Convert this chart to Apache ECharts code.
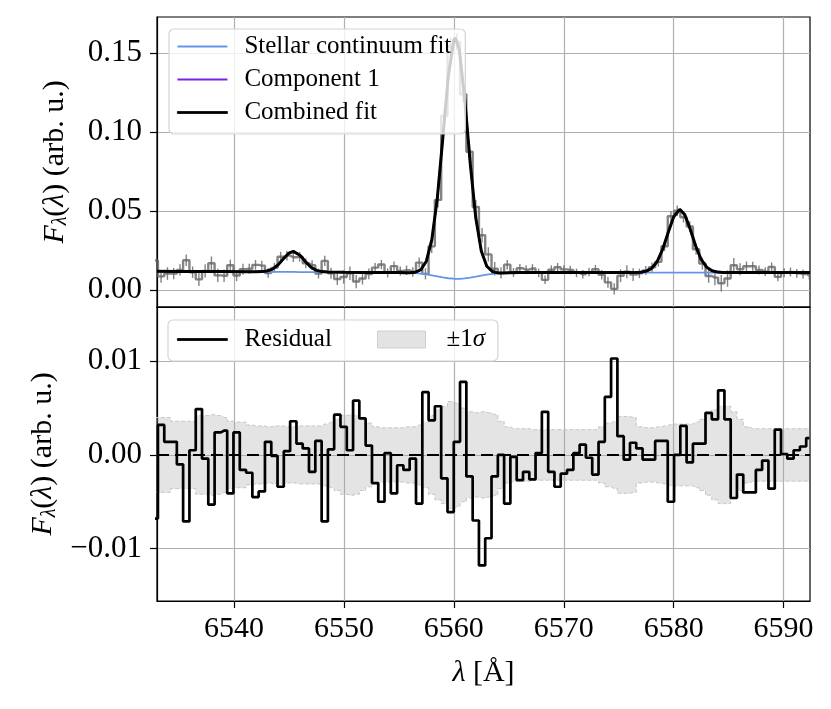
<!DOCTYPE html>
<html>
<head>
<meta charset="utf-8">
<script src="https://cdn.jsdelivr.net/npm/echarts@6/dist/echarts.min.js"></script>
<style>
html, body { margin: 0; padding: 0; background: #fff; }
#chart { width: 831px; height: 709px; }
</style>
</head>
<body>
<div id="chart"></div>
<script>
// bin centres of the spectrum (Å)
const binCenters = [
  6532.80, 6533.37, 6533.95, 6534.52, 6535.09, 6535.66, 6536.24, 6536.81, 6537.38, 6537.95,
  6538.53, 6539.10, 6539.67, 6540.24, 6540.82, 6541.39, 6541.96, 6542.53, 6543.11, 6543.68,
  6544.25, 6544.82, 6545.40, 6545.97, 6546.54, 6547.11, 6547.69, 6548.26, 6548.83, 6549.40,
  6549.98, 6550.55, 6551.12, 6551.69, 6552.27, 6552.84, 6553.41, 6553.98, 6554.56, 6555.13,
  6555.70, 6556.27, 6556.85, 6557.42, 6557.99, 6558.56, 6559.14, 6559.71, 6560.28, 6560.85,
  6561.43, 6562.00, 6562.57, 6563.14, 6563.72, 6564.29, 6564.86, 6565.43, 6566.01, 6566.58,
  6567.15, 6567.72, 6568.30, 6568.87, 6569.44, 6570.01, 6570.59, 6571.16, 6571.73, 6572.30,
  6572.88, 6573.45, 6574.02, 6574.59, 6575.17, 6575.74, 6576.31, 6576.88, 6577.46, 6578.03,
  6578.60, 6579.17, 6579.75, 6580.32, 6580.89, 6581.46, 6582.04, 6582.61, 6583.18, 6583.75,
  6584.33, 6584.90, 6585.47, 6586.04, 6586.62, 6587.19, 6587.76, 6588.33, 6588.91, 6589.48,
  6590.05, 6590.62, 6591.20, 6591.77, 6592.34
];

// observed flux per bin
const observed = [
  0.0186, 0.0086, 0.0104, 0.0103, 0.0127, 0.0188, 0.0112, 0.0067, 0.0120, 0.0169,
  0.0092, 0.0090, 0.0156, 0.0091, 0.0131, 0.0134, 0.0159, 0.0154, 0.0107, 0.0140,
  0.0210, 0.0217, 0.0207, 0.0210, 0.0169, 0.0157, 0.0104, 0.0184, 0.0106, 0.0069,
  0.0082, 0.0106, 0.0053, 0.0072, 0.0101, 0.0141, 0.0161, 0.0108, 0.0151, 0.0120,
  0.0125, 0.0114, 0.0173, 0.0102, 0.0276, 0.0570, 0.1103, 0.1541, 0.1570, 0.1239,
  0.0875, 0.0525, 0.0346, 0.0225, 0.0134, 0.0108, 0.0160, 0.0111, 0.0137, 0.0128,
  0.0136, 0.0108, 0.0064, 0.0128, 0.0144, 0.0130, 0.0126, 0.0108, 0.0099, 0.0113,
  0.0131, 0.0096, 0.0048, 0.0007, 0.0090, 0.0115, 0.0097, 0.0105, 0.0123, 0.0144,
  0.0178, 0.0277, 0.0467, 0.0501, 0.0460, 0.0402, 0.0258, 0.0167, 0.0088, 0.0078,
  0.0042, 0.0072, 0.0156, 0.0131, 0.0150, 0.0150, 0.0126, 0.0116, 0.0146, 0.0083,
  0.0109, 0.0114, 0.0105, 0.0101, 0.0092
];

// 1 sigma error per bin
const sigma = [
  0.0040, 0.0040, 0.0040, 0.0036, 0.0036, 0.0036, 0.0036, 0.0042, 0.0042, 0.0043,
  0.0042, 0.0040, 0.0036, 0.0035, 0.0035, 0.0032, 0.0031, 0.0031, 0.0030, 0.0031,
  0.0031, 0.0030, 0.0030, 0.0031, 0.0031, 0.0031, 0.0031, 0.0033, 0.0035, 0.0038,
  0.0042, 0.0043, 0.0042, 0.0038, 0.0034, 0.0030, 0.0029, 0.0029, 0.0029, 0.0029,
  0.0030, 0.0030, 0.0032, 0.0035, 0.0042, 0.0048, 0.0052, 0.0057, 0.0055, 0.0050,
  0.0046, 0.0045, 0.0046, 0.0045, 0.0043, 0.0036, 0.0030, 0.0028, 0.0028, 0.0028,
  0.0027, 0.0027, 0.0027, 0.0027, 0.0027, 0.0027, 0.0027, 0.0027, 0.0027, 0.0027,
  0.0027, 0.0030, 0.0034, 0.0036, 0.0041, 0.0041, 0.0040, 0.0030, 0.0029, 0.0029,
  0.0030, 0.0031, 0.0033, 0.0033, 0.0033, 0.0033, 0.0035, 0.0038, 0.0043, 0.0048,
  0.0052, 0.0052, 0.0046, 0.0038, 0.0030, 0.0028, 0.0028, 0.0028, 0.0028, 0.0028,
  0.0028, 0.0028, 0.0028, 0.0028, 0.0028
];

// residual per bin
const residual = [
  -0.0068, 0.0032, 0.0014, 0.0014, -0.0010, -0.0071, 0.0005, 0.0049, -0.0004, -0.0053,
  0.0024, 0.0026, -0.0041, 0.0024, -0.0016, -0.0019, -0.0045, -0.0039, 0.0014, -0.0001,
  -0.0034, 0.0004, 0.0036, 0.0012, 0.0007, -0.0018, 0.0015, -0.0071, 0.0006, 0.0043,
  0.0030, 0.0005, 0.0058, 0.0039, 0.0010, -0.0030, -0.0050, 0.0002, -0.0041, -0.0011,
  -0.0016, -0.0004, -0.0052, 0.0067, 0.0037, 0.0052, -0.0025, -0.0061, 0.0014, 0.0078,
  -0.0023, -0.0070, -0.0118, -0.0089, -0.0023, 0.0000, -0.0052, -0.0002, -0.0027, -0.0018,
  -0.0026, 0.0002, 0.0046, -0.0018, -0.0034, -0.0020, -0.0016, 0.0002, 0.0011, -0.0003,
  -0.0021, 0.0014, 0.0062, 0.0103, 0.0020, -0.0005, 0.0013, 0.0007, -0.0005, -0.0005,
  0.0015, 0.0015, -0.0050, 0.0000, 0.0031, -0.0008, 0.0012, 0.0012, 0.0045, 0.0038,
  0.0069, 0.0038, -0.0046, -0.0021, -0.0040, -0.0040, -0.0016, -0.0006, -0.0036, 0.0027,
  0.0001, -0.0004, 0.0005, 0.0009, 0.0018
];

// model curves
const fitX = [
  6533, 6535, 6537, 6539, 6541, 6542, 6542.5, 6543, 6543.5, 6544,
  6544.5, 6545, 6545.4, 6546, 6546.5, 6547, 6547.5, 6548, 6548.5, 6550,
  6552, 6554, 6555, 6555.5, 6556, 6556.5, 6557, 6557.5, 6558, 6558.5,
  6559, 6559.5, 6560, 6560.15, 6560.5, 6561, 6561.5, 6562, 6562.5, 6563,
  6563.5, 6564, 6564.5, 6565, 6566, 6568, 6570, 6572, 6574, 6576,
  6576.5, 6577, 6577.5, 6578, 6578.5, 6579, 6579.5, 6580, 6580.55, 6581,
  6581.5, 6582, 6582.5, 6583, 6583.5, 6584, 6584.5, 6585, 6587, 6589,
  6591, 6592.4
];
const stellarY = [
  0.0118, 0.0117, 0.0117, 0.0116, 0.0115, 0.0115, 0.0115, 0.0115, 0.0114, 0.0114,
  0.0114, 0.0114, 0.0114, 0.0113, 0.0113, 0.0113, 0.0113, 0.0113, 0.0113, 0.0112,
  0.0111, 0.0111, 0.0110, 0.0109, 0.0108, 0.0106, 0.0103, 0.0098, 0.0092, 0.0086,
  0.0079, 0.0074, 0.0071, 0.0070, 0.0070, 0.0073, 0.0078, 0.0084, 0.0091, 0.0097,
  0.0102, 0.0105, 0.0107, 0.0109, 0.0110, 0.0110, 0.0110, 0.0110, 0.0110, 0.0110,
  0.0110, 0.0110, 0.0110, 0.0110, 0.0110, 0.0110, 0.0110, 0.0110, 0.0110, 0.0110,
  0.0110, 0.0110, 0.0110, 0.0110, 0.0110, 0.0110, 0.0110, 0.0110, 0.0110, 0.0110,
  0.0110, 0.0110
];
const combinedY = [
  0.0118, 0.0117, 0.0117, 0.0116, 0.0115, 0.0115, 0.0116, 0.0120, 0.0132, 0.0158,
  0.0197, 0.0233, 0.0244, 0.0220, 0.0180, 0.0144, 0.0124, 0.0116, 0.0113, 0.0112,
  0.0111, 0.0111, 0.0110, 0.0109, 0.0109, 0.0112, 0.0128, 0.0182, 0.0318, 0.0581,
  0.0962, 0.1355, 0.1582, 0.1595, 0.1520, 0.1204, 0.0796, 0.0455, 0.0247, 0.0150,
  0.0117, 0.0108, 0.0107, 0.0109, 0.0110, 0.0110, 0.0110, 0.0110, 0.0110, 0.0110,
  0.0111, 0.0112, 0.0119, 0.0137, 0.0180, 0.0258, 0.0364, 0.0463, 0.0510, 0.0478,
  0.0386, 0.0278, 0.0193, 0.0144, 0.0121, 0.0113, 0.0111, 0.0110, 0.0110, 0.0110,
  0.0110, 0.0110
];

const xTicks = [6540, 6550, 6560, 6570, 6580, 6590];
const topTicks = [0, 0.05, 0.10, 0.15];
const botTicks = [-0.01, 0, 0.01];

const FONT = 'Liberation Serif';
const GRID_COLOR = '#b0b0b0';
const DATA_GRAY = 'rgba(100,100,100,0.8)';
const BAND_FILL = 'rgba(165,165,165,0.3)';
const BAND_EDGE = '#c6c6c6';

const pair = (xs, ys) => xs.map((x, i) => [x, ys[i]]);
const fmt = v => (v < 0 ? '\u2212' : '') + Math.abs(v).toFixed(2);

const yName = '{i|F}{s|λ}({i|λ}) (arb. u.)';
const yNameStyle = {
  fontFamily: FONT, fontSize: 30, color: '#000',
  rich: {
    i: { fontFamily: FONT, fontSize: 30, fontStyle: 'italic', color: '#000' },
    s: { fontFamily: FONT, fontSize: 20, fontStyle: 'italic', color: '#000', padding: [12, 0, 0, 0] }
  }
};

function xAxisFor(idx, withLabels) {
  return {
    gridIndex: idx, type: 'value', min: 6533.0, max: 6592.4,
    axisLine: { show: true, onZero: false, lineStyle: { color: '#000', width: 1.2 } },
    axisTick: { show: withLabels, length: 7, customValues: xTicks, lineStyle: { color: '#000', width: 1.2 } },
    axisLabel: {
      show: withLabels, customValues: xTicks, fontFamily: FONT, fontSize: 30, color: '#000', margin: 13,
      formatter: v => String(v)
    },
    splitLine: { show: true, lineStyle: { color: GRID_COLOR, width: 1.2 } },
    name: withLabels ? '{i|λ} [Å]' : '',
    nameLocation: 'middle', nameGap: 57,
    nameTextStyle: {
      fontFamily: FONT, fontSize: 30, color: '#000',
      rich: { i: { fontFamily: FONT, fontSize: 30, fontStyle: 'italic', color: '#000' } }
    }
  };
}

function yAxisFor(idx, min, max, ticks) {
  return {
    gridIndex: idx, type: 'value', min: min, max: max,
    axisLine: { show: true, onZero: false, lineStyle: { color: '#000', width: 1.2 } },
    axisTick: { show: true, length: 7, customValues: ticks, lineStyle: { color: '#000', width: 1.2 } },
    axisLabel: { customValues: ticks, formatter: fmt, fontFamily: FONT, fontSize: 31, color: '#000', margin: 15 },
    splitLine: { show: true, lineStyle: { color: GRID_COLOR, width: 1.2 } },
    name: yName, nameLocation: 'middle', nameRotate: 90, nameGap: 86,
    nameTextStyle: yNameStyle
  };
}

const legendText = { fontFamily: FONT, fontSize: 25, color: '#000', padding: [0, 0, 0, 12] };

const chart = echarts.init(document.getElementById('chart'));

chart.setOption({
  backgroundColor: '#fff',
  animation: false,
  textStyle: { fontFamily: FONT },
  grid: [
    { left: 157, right: 21, top: 17, height: 290, show: true, borderColor: '#000', borderWidth: 1.2, backgroundColor: 'transparent' },
    { left: 157, right: 21, top: 307, height: 294, show: true, borderColor: '#000', borderWidth: 1.2, backgroundColor: 'transparent' }
  ],
  xAxis: [xAxisFor(0, false), xAxisFor(1, true)],
  yAxis: [
    yAxisFor(0, -0.0108, 0.1728, topTicks),
    yAxisFor(1, -0.0156, 0.0158, botTicks)
  ],
  legend: [
    {
      left: 169, top: 29, orient: 'vertical', selectedMode: false, z: 10,
      data: [
        { name: 'Stellar continuum fit', icon: 'rect' },
        { name: 'Component 1', icon: 'rect' },
        { name: 'Combined fit', icon: 'rect', itemStyle: { borderColor: '#000', borderWidth: 0.8 } }
      ],
      itemWidth: 50, itemHeight: 2, itemGap: 8,
      padding: [5, 14, 9, 8],
      backgroundColor: 'rgba(255,255,255,0.8)', borderColor: '#d4d4d4', borderWidth: 1.2, borderRadius: 5,
      textStyle: legendText
    },
    {
      left: 168, top: 320, orient: 'horizontal', selectedMode: false, z: 10,
      data: [{ name: 'Residual', icon: 'rect', itemStyle: { borderColor: '#000', borderWidth: 0.8 } }],
      itemWidth: 50, itemHeight: 2,
      padding: [7, 166, 9, 9],
      backgroundColor: 'rgba(255,255,255,0.8)', borderColor: '#d4d4d4', borderWidth: 1.2, borderRadius: 5,
      textStyle: legendText
    },
    {
      left: 377, top: 327, orient: 'horizontal', selectedMode: false, z: 11,
      data: [{ name: '±1σ', icon: 'rect', itemStyle: { color: '#e3e3e3', borderColor: '#cfcfcf', borderWidth: 1 } }],
      itemWidth: 48, itemHeight: 17, padding: 0,
      formatter: () => '±1{i|σ}',
      textStyle: Object.assign({}, legendText, {
        padding: [0, 0, 0, 16],
        rich: { i: { fontFamily: FONT, fontSize: 25, fontStyle: 'italic', color: '#000' } }
      })
    }
  ],
  series: [
    {
      name: 'Data', type: 'line', xAxisIndex: 0, yAxisIndex: 0,
      data: pair(binCenters, observed), step: 'middle', symbol: 'none',
      color: DATA_GRAY, lineStyle: { color: DATA_GRAY, width: 2.4 }, z: 2, silent: true
    },
    {
      name: 'Data error', type: 'custom', xAxisIndex: 0, yAxisIndex: 0, clip: true, silent: true, z: 2,
      data: binCenters.map((x, i) => [x, observed[i] - sigma[i], observed[i] + sigma[i]]),
      encode: { x: 0, y: [1, 2] },
      renderItem: (params, api) => {
        const lo = api.coord([api.value(0), api.value(1)]);
        const hi = api.coord([api.value(0), api.value(2)]);
        return {
          type: 'line',
          shape: { x1: lo[0], y1: lo[1], x2: hi[0], y2: hi[1] },
          style: { stroke: DATA_GRAY, lineWidth: 1.4 }
        };
      }
    },
    {
      name: 'Stellar continuum fit', type: 'line', xAxisIndex: 0, yAxisIndex: 0,
      data: pair(fitX, stellarY), symbol: 'none', color: '#6495ed',
      lineStyle: { color: '#6495ed', width: 1.8 }, z: 3, silent: true
    },
    {
      name: 'Component 1', type: 'line', xAxisIndex: 0, yAxisIndex: 0,
      data: pair(fitX, combinedY), symbol: 'none', color: '#7b22e0',
      lineStyle: { color: '#7b22e0', width: 2 }, z: 4, silent: true
    },
    {
      name: 'Combined fit', type: 'line', xAxisIndex: 0, yAxisIndex: 0,
      data: pair(fitX, combinedY), symbol: 'none', color: '#000',
      lineStyle: { color: '#000', width: 3 }, z: 5, silent: true
    },
    // symmetric ±1σ band: each half filled from zero
    {
      name: 'bandLow', type: 'line', xAxisIndex: 1, yAxisIndex: 1,
      data: pair(binCenters, sigma.map(s => -s)), step: 'middle', symbol: 'none',
      color: BAND_FILL, areaStyle: { color: BAND_FILL, opacity: 1 },
      lineStyle: { color: BAND_EDGE, width: 1, type: 'dashed' }, z: 1, silent: true
    },
    {
      name: '±1σ', type: 'line', xAxisIndex: 1, yAxisIndex: 1,
      data: pair(binCenters, sigma), step: 'middle', symbol: 'none',
      color: BAND_FILL, areaStyle: { color: BAND_FILL, opacity: 1 },
      lineStyle: { color: BAND_EDGE, width: 1, type: 'dashed' }, z: 1, silent: true
    },
    {
      name: 'Residual', type: 'line', xAxisIndex: 1, yAxisIndex: 1,
      data: pair(binCenters, residual), step: 'middle', symbol: 'none', color: '#000',
      lineStyle: { color: '#000', width: 2.7 }, z: 3, silent: true,
      markLine: {
        silent: true, symbol: 'none', label: { show: false },
        lineStyle: { color: '#000', type: [12, 6], width: 2.2 },
        data: [{ yAxis: 0 }]
      }
    }
  ]
});
</script>
</body>
</html>
